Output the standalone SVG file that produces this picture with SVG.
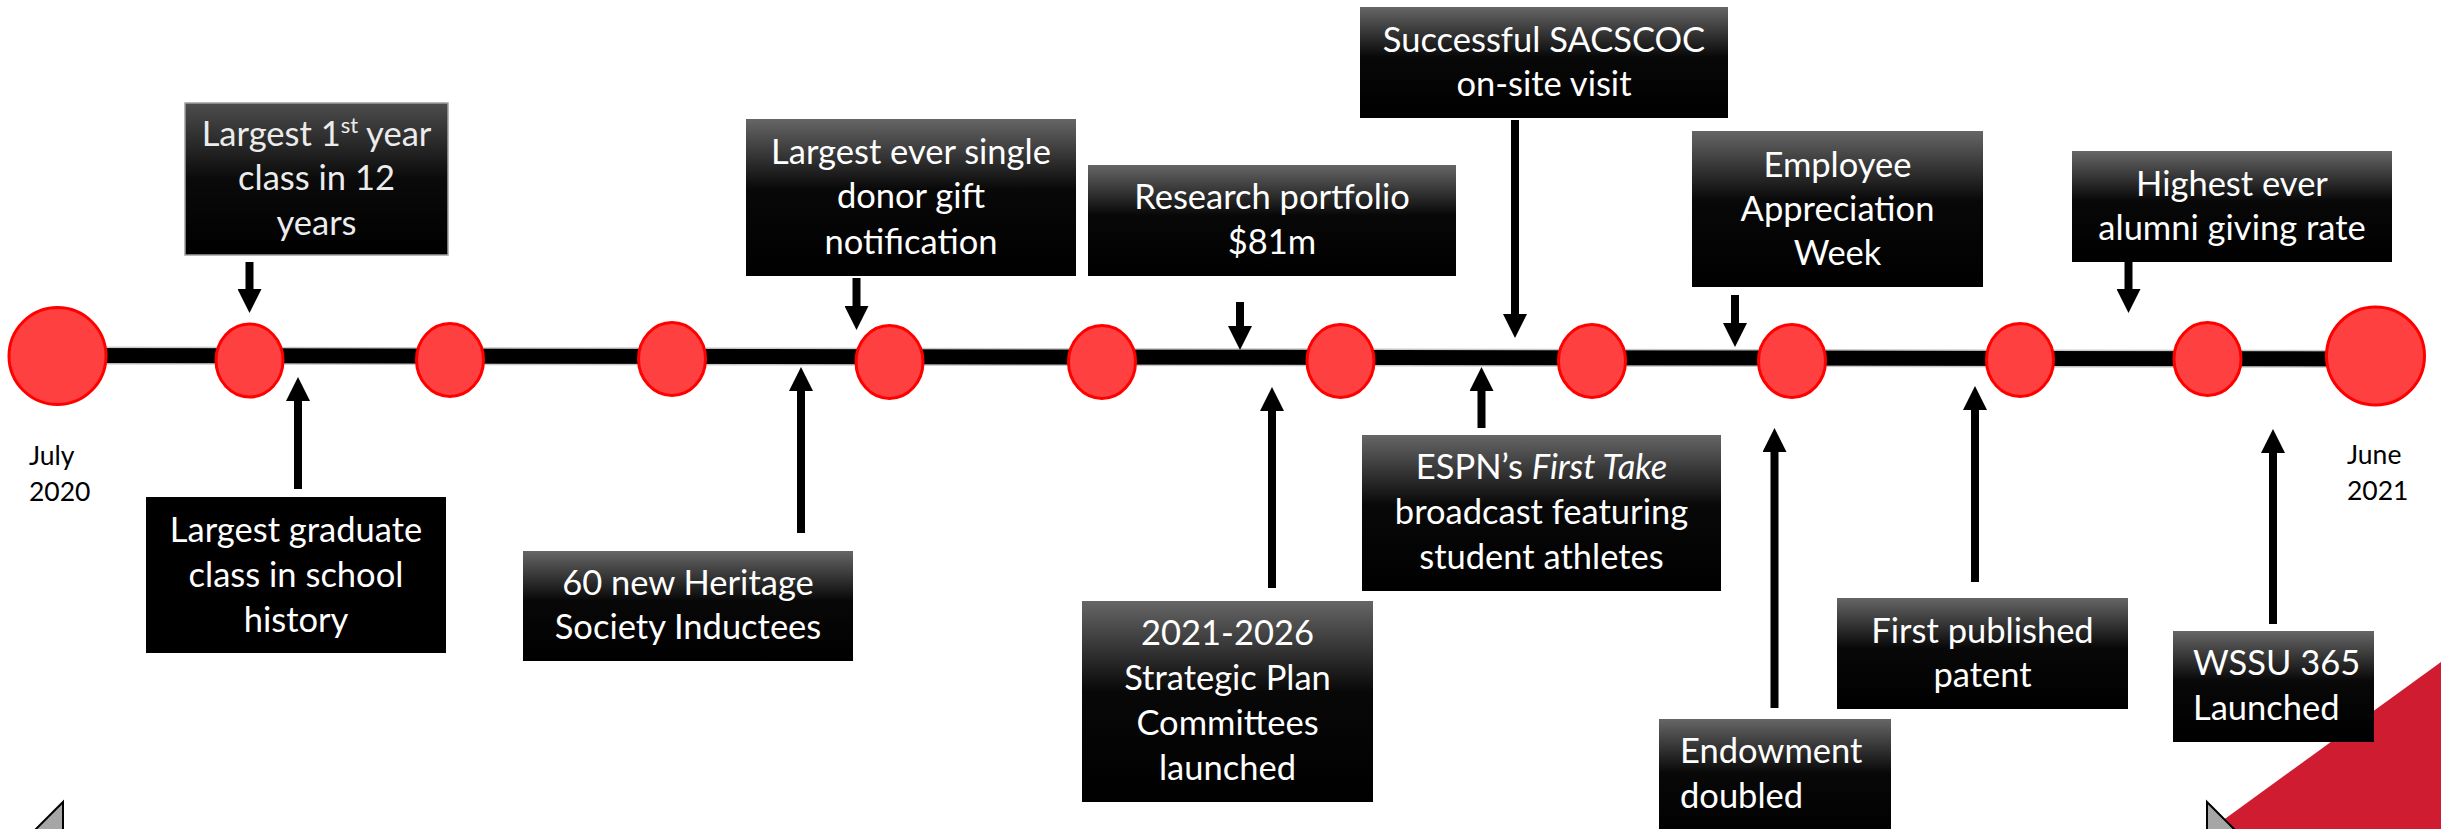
<svg xmlns="http://www.w3.org/2000/svg" width="2441" height="829" viewBox="0 0 2441 829">
<defs>
<linearGradient id="g" x1="0" y1="0" x2="0" y2="1">
<stop offset="0" stop-color="#666"/>
<stop offset="0.45" stop-color="#080808"/>
<stop offset="1" stop-color="#000"/>
</linearGradient>
<linearGradient id="gA" x1="0" y1="0" x2="0" y2="1">
<stop offset="0" stop-color="#4d4d4d"/>
<stop offset="0.5" stop-color="#0a0a0a"/>
<stop offset="1" stop-color="#000"/>
</linearGradient>
<marker id="ah" markerUnits="userSpaceOnUse" markerWidth="24" markerHeight="24" viewBox="0 0 24 24" refX="0" refY="12" orient="auto">
<path d="M0,0 L24,12 L0,24 z" fill="#000"/>
</marker>
</defs>
<style>
.box{fill:url(#g)}
.t{font-family:Lato,"Open Sans",sans-serif;font-size:34.5px;fill:#fff;text-anchor:middle}
.tl{font-family:Lato,"Open Sans",sans-serif;font-size:34.5px;fill:#fff}
.d{font-family:Lato,"Open Sans",sans-serif;font-size:26.5px;fill:#000}
.c{fill:#ff4040;stroke:#ff0000;stroke-width:3}
.a{stroke:#000;stroke-width:8;fill:none;marker-end:url(#ah)}
.nav{fill:#a6a6a6;stroke:#000;stroke-width:2}
</style>
<rect width="2441" height="829" fill="#fff"/>
<polygon points="2441,662 2441,829 2211,829" fill="#d01c30"/>

<g id="timeline">
<line x1="57" y1="355.5" x2="2376" y2="359" stroke="#c8c8c8" stroke-width="18"/>
<line x1="57" y1="355.5" x2="2376" y2="359" stroke="#000" stroke-width="15"/>
</g>

<g id="connectors">
<line class="a" x1="249.5" y1="262" x2="249.5" y2="289"/>
<line class="a" x1="856.5" y1="278" x2="856.5" y2="306"/>
<line class="a" x1="1240" y1="302" x2="1240" y2="326"/>
<line class="a" x1="1515" y1="120" x2="1515" y2="314"/>
<line class="a" x1="1735" y1="295" x2="1735" y2="323"/>
<line class="a" x1="2128.5" y1="262" x2="2128.5" y2="289"/>
<line class="a" x1="298" y1="489" x2="298" y2="401"/>
<line class="a" x1="801" y1="533" x2="801" y2="391"/>
<line class="a" x1="1272" y1="588" x2="1272" y2="411"/>
<line class="a" x1="1481.5" y1="428" x2="1481.5" y2="391"/>
<line class="a" x1="1774.5" y1="708" x2="1774.5" y2="452"/>
<line class="a" x1="1975" y1="582" x2="1975" y2="410"/>
<line class="a" x1="2273" y1="624" x2="2273" y2="453"/>
</g>

<g id="milestones">
<circle class="c" cx="57.5" cy="356" r="48.5"/>
<ellipse class="c" cx="249.5" cy="360.5" rx="33.5" ry="36.5"/>
<ellipse class="c" cx="450" cy="360" rx="33.5" ry="36.5"/>
<ellipse class="c" cx="672" cy="359" rx="33.5" ry="36.5"/>
<ellipse class="c" cx="889.5" cy="362" rx="33.5" ry="36.5"/>
<ellipse class="c" cx="1102" cy="362" rx="33.5" ry="36.5"/>
<ellipse class="c" cx="1340.5" cy="361" rx="33.5" ry="36.5"/>
<ellipse class="c" cx="1592" cy="361" rx="33.5" ry="36.5"/>
<ellipse class="c" cx="1792" cy="361" rx="33.5" ry="36.5"/>
<ellipse class="c" cx="2020" cy="360" rx="33.5" ry="36.5"/>
<ellipse class="c" cx="2207.5" cy="359" rx="33.5" ry="36.5"/>
<circle class="c" cx="2375.5" cy="356" r="49"/>
</g>

<g id="label-start">
<text class="d" x="29" y="465">July</text>
<text class="d" x="29" y="501">2020</text>
</g>
<g id="label-end">
<text class="d" x="2347" y="464">June</text>
<text class="d" x="2347" y="500">2021</text>
</g>

<g id="n-first-year">
<rect x="185" y="103" width="263" height="152" fill="url(#gA)" stroke="#a0a0a0" stroke-width="1.5"/>
<text class="t" x="316.5" y="146" style="fill:#ececec">Largest 1<tspan dy="-13" font-size="22">st</tspan><tspan dy="13"> year</tspan></text>
<text class="t" x="316.5" y="190" style="fill:#ececec">class in 12</text>
<text class="t" x="316.5" y="235" style="fill:#ececec">years</text>
</g>

<g id="n-donor">
<rect class="box" x="746" y="119" width="330" height="157"/>
<text class="t" x="911" y="164">Largest ever single</text>
<text class="t" x="911" y="208">donor gift</text>
<text class="t" x="911" y="254">notification</text>
</g>

<g id="n-research">
<rect class="box" x="1088" y="165" width="368" height="111"/>
<text class="t" x="1272" y="209">Research portfolio</text>
<text class="t" x="1272" y="254">$81m</text>
</g>

<g id="n-sacscoc">
<rect class="box" x="1360" y="7" width="368" height="111"/>
<text class="t" x="1544" y="52">Successful SACSCOC</text>
<text class="t" x="1544" y="96">on-site visit</text>
</g>

<g id="n-employee">
<rect class="box" x="1692" y="131" width="291" height="156"/>
<text class="t" x="1837.5" y="177">Employee</text>
<text class="t" x="1837.5" y="221">Appreciation</text>
<text class="t" x="1837.5" y="265">Week</text>
</g>

<g id="n-alumni">
<rect class="box" x="2072" y="151" width="320" height="111"/>
<text class="t" x="2232" y="196">Highest ever</text>
<text class="t" x="2232" y="240">alumni giving rate</text>
</g>

<g id="n-graduate">
<rect x="146" y="497" width="300" height="156" fill="#000"/>
<text class="t" x="296" y="542">Largest graduate</text>
<text class="t" x="296" y="587">class in school</text>
<text class="t" x="296" y="632">history</text>
</g>

<g id="n-heritage">
<rect class="box" x="523" y="551" width="330" height="110"/>
<text class="t" x="688" y="595">60 new Heritage</text>
<text class="t" x="688" y="639">Society Inductees</text>
</g>

<g id="n-strategic">
<rect class="box" x="1082" y="601" width="291" height="201"/>
<text class="t" x="1227.5" y="645">2021-2026</text>
<text class="t" x="1227.5" y="690">Strategic Plan</text>
<text class="t" x="1227.5" y="735">Committees</text>
<text class="t" x="1227.5" y="780">launched</text>
</g>

<g id="n-espn">
<rect class="box" x="1362" y="435" width="359" height="156"/>
<text class="t" x="1541.5" y="479">ESPN’s <tspan font-style="italic">First Take</tspan></text>
<text class="t" x="1541.5" y="524">broadcast featuring</text>
<text class="t" x="1541.5" y="569">student athletes</text>
</g>

<g id="n-endowment">
<rect class="box" x="1659" y="719" width="232" height="120"/>
<text class="tl" x="1680" y="763">Endowment</text>
<text class="tl" x="1680" y="808">doubled</text>
</g>

<g id="n-patent">
<rect class="box" x="1837" y="598" width="291" height="111"/>
<text class="t" x="1982.5" y="643">First published</text>
<text class="t" x="1982.5" y="687">patent</text>
</g>

<g id="n-wssu">
<rect class="box" x="2173" y="631" width="201" height="111"/>
<text class="tl" x="2193" y="675">WSSU 365</text>
<text class="tl" x="2193" y="720">Launched</text>
</g>

<polygon class="nav" points="63,802 63,830 35,830"/>
<polygon class="nav" points="2207,802 2235,830 2207,830"/>
</svg>
